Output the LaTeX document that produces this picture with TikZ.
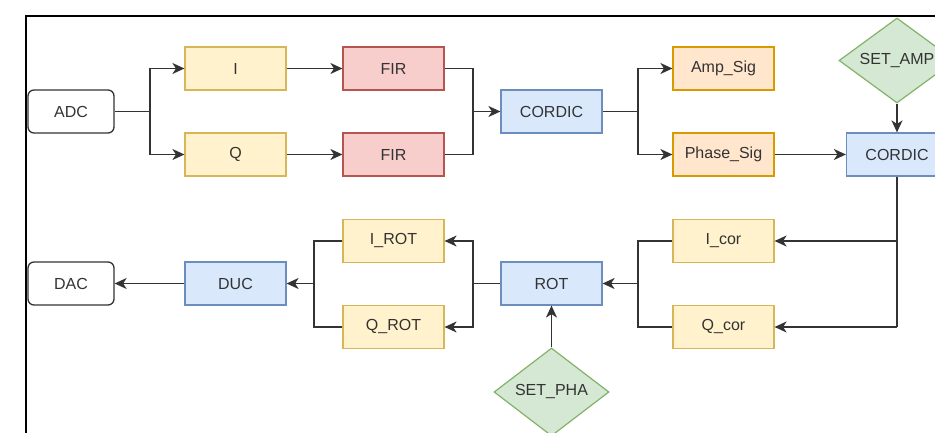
\documentclass[tikz,border=0pt]{standalone}
\usepackage{fontspec}
\setmainfont{Liberation Sans}
\usetikzlibrary{shapes.geometric,arrows.meta}

\definecolor{ylwfill}{HTML}{FFF2CC}\definecolor{ylwline}{HTML}{D6B656}
\definecolor{redfill}{HTML}{F8CECC}\definecolor{redline}{HTML}{B85450}
\definecolor{blufill}{HTML}{DAE8FC}\definecolor{bluline}{HTML}{6C8EBF}
\definecolor{orgfill}{HTML}{FFE6CC}\definecolor{orgline}{HTML}{D79B00}
\definecolor{grnfill}{HTML}{D5E8D4}\definecolor{grnline}{HTML}{82B366}
\definecolor{ink}{HTML}{333333}

\tikzset{
  blk/.style={rectangle, minimum width=101pt, minimum height=43pt, inner sep=0pt,
    line width=1.2pt, font=\fontsize{16}{18}\selectfont, text=ink},
  ylw/.style={blk, fill=ylwfill, draw=ylwline},
  red/.style={blk, fill=redfill, draw=redline},
  blu/.style={blk, fill=blufill, draw=bluline},
  org/.style={blk, fill=orgfill, draw=orgline},
  term/.style={blk, minimum width=86pt, draw=ink, fill=white, rounded corners=6pt, line width=1.3pt},
  dia/.style={diamond, fill=grnfill, draw=grnline, line width=1.2pt, inner sep=0pt,
    label={[font=\fontsize{16}{18}\selectfont, text=ink]center:#1}},
  wire/.style={draw=ink, line width=1.5pt},
  arr/.style={wire, -{Stealth[length=12pt, width=11pt, inset=3.5pt]}},
}

\begin{document}
\begin{tikzpicture}[x=1pt, y=-1pt]
  \clip (0,0) rectangle (935,433);
  \fill[white] (0,0) rectangle (935,433);

  % outer frame of the larger sheet
  \draw[black, line width=2pt] (26,16) rectangle (1000,500);

  % receive path
  \node[term] (adc) at (71,111.5) {ADC};
  \node[ylw] (i) at (235.5,68.5) {I};
  \node[ylw] (q) at (235.5,154.5) {Q};
  \node[red] (fir1) at (393.5,68.5) {FIR};
  \node[red] (fir2) at (393.5,154.5) {FIR};
  \node[blu] (cordic1) at (551.5,111.5) {CORDIC};
  \node[org] (amp) at (723.5,68.5) {Amp\_Sig};
  \node[org] (phase) at (723.5,154.5) {Phase\_Sig};
  \node[dia=SET\_AMP, minimum width=116pt, minimum height=85pt] (setamp) at (897,60.5) {};
  \node[blu] (cordic2) at (897,154.5) {CORDIC};

  % transmit path
  \node[ylw] (icor) at (723.5,241) {I\_cor};
  \node[ylw] (qcor) at (723.5,327) {Q\_cor};
  \node[blu] (rot) at (551.5,283.5) {ROT};
  \node[ylw] (irot) at (393.5,241) {I\_ROT};
  \node[ylw] (qrot) at (393.5,327) {Q\_ROT};
  \node[blu] (duc) at (235.5,283.5) {DUC};
  \node[term] (dac) at (71,283.5) {DAC};
  \node[dia=SET\_PHA, minimum width=115pt, minimum height=88pt] (setpha) at (551.5,392) {};

  % branch and merge points
  \coordinate (s1) at (150,111.5);
  \coordinate (m1) at (473,111.5);
  \coordinate (s2) at (638,111.5);
  \coordinate (c2i) at (897,241);
  \coordinate (c2q) at (897,327);
  \coordinate (m2) at (638,283.5);
  \coordinate (s3) at (473,283.5);
  \coordinate (m3) at (314,283.5);

  % receive connectors
  \draw[wire] (adc.east) -- (s1);
  \draw[arr] (s1) |- (i.west);
  \draw[arr] (s1) |- (q.west);
  \draw[arr] (i) -- (fir1);
  \draw[arr] (q) -- (fir2);
  \draw[wire] (fir1.east) -| (m1);
  \draw[wire] (fir2.east) -| (m1);
  \draw[arr] (m1) -- (cordic1.west);
  \draw[wire] (cordic1.east) -- (s2);
  \draw[arr] (s2) |- (amp.west);
  \draw[arr] (s2) |- (phase.west);
  \draw[arr] (phase.east) -- (cordic2.west);
  \draw[arr] (setamp.south) -- (cordic2.north);

  % transmit connectors
  \draw[wire] (cordic2.south) -- (c2q);
  \draw[arr] (c2i) -- (icor.east);
  \draw[arr] (c2q) -- (qcor.east);
  \draw[wire] (icor.west) -| (m2);
  \draw[wire] (qcor.west) -| (m2);
  \draw[arr] (m2) -- (rot.east);
  \draw[arr] (setpha.north) -- (rot.south);
  \draw[wire] (rot.west) -- (s3);
  \draw[arr] (s3) |- (irot.east);
  \draw[arr] (s3) |- (qrot.east);
  \draw[wire] (irot.west) -| (m3);
  \draw[wire] (qrot.west) -| (m3);
  \draw[arr] (m3) -- (duc.east);
  \draw[arr] (duc.west) -- (dac.east);
\end{tikzpicture}
\end{document}
